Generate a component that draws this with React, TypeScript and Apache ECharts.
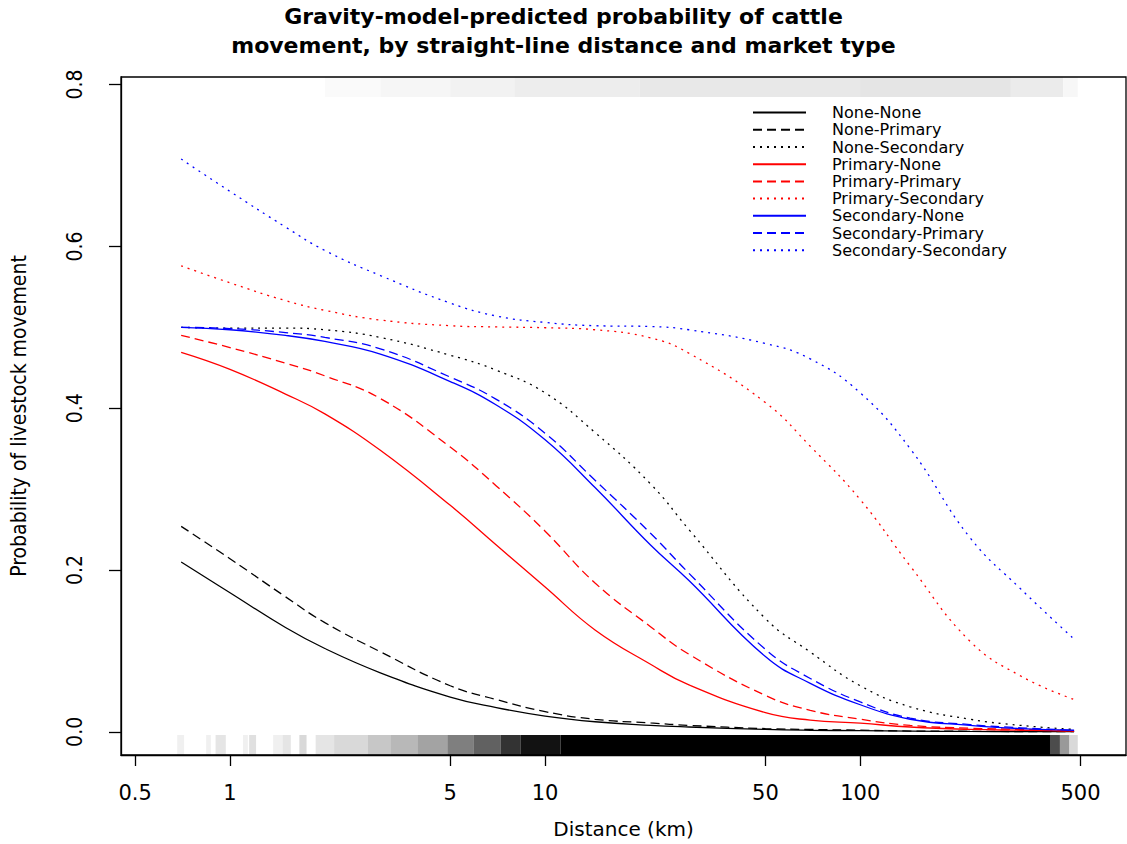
import React, { useEffect, useRef } from "react";
import * as echarts from "echarts";

// Distances (km) at which curves were read
const distKm = [0.7, 1, 1.5, 2, 3, 5, 7, 10, 14.4, 21.6, 28.6, 50, 69.4, 100, 144, 223, 323, 477];

const noneNone = [0.210, 0.172, 0.129, 0.103, 0.073, 0.043, 0.030, 0.0195, 0.0125, 0.008, 0.006, 0.003, 0.002, 0.0015, 0.001, 0.0005, 0.0003, 0.0002];
const nonePrimary = [0.254, 0.214, 0.167, 0.135, 0.099, 0.057, 0.040, 0.025, 0.0155, 0.011, 0.008, 0.004, 0.003, 0.002, 0.001, 0.0007, 0.0004, 0.0002];
const noneSecondary = [0.500, 0.499, 0.499, 0.497, 0.4875, 0.4655, 0.447, 0.419, 0.370, 0.3065, 0.250, 0.140, 0.0987, 0.057, 0.031, 0.0156, 0.008, 0.003];
const primaryNone = [0.469, 0.448, 0.4175, 0.393, 0.348, 0.280, 0.231, 0.179, 0.126, 0.0835, 0.058, 0.0237, 0.0145, 0.0107, 0.006, 0.003, 0.002, 0.001];
const primaryPrimary = [0.490, 0.475, 0.4557, 0.440, 0.412, 0.352, 0.304, 0.248, 0.184, 0.130, 0.096, 0.045, 0.0266, 0.0156, 0.008, 0.0045, 0.003, 0.001];
const primarySecondary = [0.576, 0.555, 0.533, 0.521, 0.509, 0.502, 0.5005, 0.4995, 0.497, 0.487, 0.468, 0.407, 0.353, 0.287, 0.205, 0.112, 0.069, 0.040];
const secondaryNone = [0.500, 0.497, 0.490, 0.4825, 0.467, 0.433, 0.404, 0.361, 0.302, 0.231, 0.187, 0.093, 0.060, 0.0335, 0.0156, 0.008, 0.004, 0.002];
const secondaryPrimary = [0.500, 0.4985, 0.4935, 0.4875, 0.4735, 0.4385, 0.411, 0.369, 0.311, 0.2455, 0.196, 0.102, 0.066, 0.037, 0.017, 0.009, 0.005, 0.002];
const secondarySecondary = [0.708, 0.668, 0.624, 0.595, 0.564, 0.530, 0.514, 0.506, 0.502, 0.501, 0.497, 0.480, 0.461, 0.419, 0.350, 0.240, 0.1766, 0.1147];

const seriesNames = [
  "None-None", "None-Primary", "None-Secondary",
  "Primary-None", "Primary-Primary", "Primary-Secondary",
  "Secondary-None", "Secondary-Primary", "Secondary-Secondary",
];
const seriesValues = [
  noneNone, nonePrimary, noneSecondary,
  primaryNone, primaryPrimary, primarySecondary,
  secondaryNone, secondaryPrimary, secondarySecondary,
];
const seriesColors = ["#000000", "#000000", "#000000", "#ff0000", "#ff0000", "#ff0000", "#0000ff", "#0000ff", "#0000ff"];
const seriesDash = ["solid", "dashed", "dotted", "solid", "dashed", "dotted", "solid", "dashed", "dotted"];

// Rug density bins: [from km, to km, shade 0..1]
const rugBottom = [
  [0.68, 0.715, 0.06], [0.84, 0.87, 0.06], [0.9, 0.97, 0.1], [1.1, 1.14, 0.06], [1.15, 1.21, 0.12],
  [1.37, 1.47, 0.06], [1.47, 1.56, 0.1], [1.66, 1.75, 0.15], [1.87, 2.14, 0.1], [2.14, 2.74, 0.15],
  [2.74, 3.24, 0.22], [3.24, 3.94, 0.28], [3.94, 4.9, 0.36], [4.9, 5.94, 0.5], [5.94, 7.23, 0.62],
  [7.23, 8.37, 0.8], [8.37, 11.2, 0.93], [11.2, 400, 1.0], [400, 430, 0.7], [430, 460, 0.4], [460, 490, 0.15],
];
const rugTop = [
  [2.0, 3.0, 0.02], [3.0, 5.0, 0.035], [5.0, 8.0, 0.05], [8.0, 20, 0.07], [20, 100, 0.09],
  [100, 300, 0.1], [300, 440, 0.08], [440, 490, 0.03],
];

const xTicks = [0.5, 1, 5, 10, 50, 100, 500];
const yTicks = [0, 0.2, 0.4, 0.6, 0.8];

const X_MIN = 0.451;
const X_MAX = 697;
const Y_MIN = -0.0286;
const Y_MAX = 0.8094;
const RUG_LEN = 20;

export default function App() {
  const ref = useRef<HTMLDivElement>(null);
  useEffect(() => {
    document.body.style.margin = "0";
    if (!ref.current) return;
    const chart = echarts.init(ref.current, undefined, { renderer: "svg" });

    const lineSeries = seriesNames.map((name, i) => ({
      name,
      type: "line",
      data: distKm.map((d, j) => [d, seriesValues[i][j]]),
      symbol: "none",
      showSymbol: false,
      smooth: 0.45,
      z: 5,
      lineStyle: {
        color: seriesColors[i],
        width: 1.3,
        type: seriesDash[i] === "dashed" ? [9, 5] : seriesDash[i] === "dotted" ? [2, 5] : "solid",
      },
      itemStyle: { color: seriesColors[i] },
    }));

    const rugSeries = (data: number[][], top: boolean) => ({
      type: "custom",
      silent: true,
      clip: true,
      z: 1,
      data,
      encode: { x: [0, 1], y: 2 },
      renderItem: (params: any, api: any) => {
        const from = api.value(0);
        const to = api.value(1);
        const shade = api.value(2);
        const p0 = api.coord([from, top ? Y_MAX : Y_MIN]);
        const p1 = api.coord([to, top ? Y_MAX : Y_MIN]);
        return {
          type: "rect",
          shape: { x: p0[0], y: top ? p0[1] : p0[1] - RUG_LEN, width: p1[0] - p0[0], height: RUG_LEN },
          style: { fill: `rgba(0,0,0,${shade})` },
        };
      },
    });

    chart.setOption({
      animation: false,
      backgroundColor: "#ffffff",
      title: {
        text: "Gravity-model-predicted probability of cattle\nmovement, by straight-line distance and market type",
        left: "center",
        top: 2,
        padding: 0,
        textStyle: {
          fontFamily: "DejaVu Sans",
          fontWeight: "bold",
          fontSize: 22,
          lineHeight: 29,
          color: "#000",
        },
      },
      legend: {
        orient: "vertical",
        left: 752,
        top: 104,
        padding: 0,
        itemWidth: 53,
        itemHeight: 14,
        itemGap: 0,
        data: seriesNames,
        itemStyle: { opacity: 0, color: "transparent", borderWidth: 0 },
        textStyle: {
          fontFamily: "DejaVu Sans",
          fontSize: 16,
          lineHeight: 17.2,
          color: "#000",
          padding: [0, 0, 0, 21],
        },
      },
      grid: {
        left: 120,
        right: 1,
        top: 77,
        bottom: 84,
        show: true,
        borderColor: "#000",
        borderWidth: 1.3,
        backgroundColor: "transparent",
      },
      xAxis: {
        type: "log",
        logBase: 10,
        min: X_MIN,
        max: X_MAX,
        name: "Distance (km)",
        nameLocation: "middle",
        nameGap: 64,
        nameTextStyle: { fontFamily: "DejaVu Sans", fontSize: 20, color: "#000" },
        axisLine: { show: true, onZero: false, lineStyle: { color: "#000", width: 1.3 } },
        axisTick: { show: true, length: 11, customValues: xTicks, lineStyle: { color: "#000", width: 1.3 } },
        axisLabel: {
          customValues: xTicks,
          margin: 27,
          fontFamily: "DejaVu Sans",
          fontSize: 21,
          color: "#000",
          formatter: (v: number) => String(v),
        },
        splitLine: { show: false },
        minorTick: { show: false },
      },
      yAxis: {
        type: "value",
        min: Y_MIN,
        max: Y_MAX,
        name: "Probability of livestock movement",
        nameLocation: "middle",
        nameRotate: 90,
        nameGap: 92,
        nameTextStyle: {
          fontFamily: "'Liberation Sans Narrow', 'DejaVu Sans Condensed', 'Liberation Sans'",
          fontSize: 21,
          color: "#000",
        },
        axisLine: { show: true, onZero: false, lineStyle: { color: "#000", width: 1.3 } },
        axisTick: { show: true, length: 12, customValues: yTicks, lineStyle: { color: "#000", width: 1.3 } },
        axisLabel: {
          customValues: yTicks,
          rotate: 90,
          margin: 36,
          fontFamily: "'Liberation Sans Narrow', 'DejaVu Sans Condensed', 'Liberation Sans'",
          fontSize: 21,
          color: "#000",
          formatter: (v: number) => v.toFixed(1),
        },
        splitLine: { show: false },
      },
      series: [rugSeries(rugBottom, false), rugSeries(rugTop, true), ...lineSeries],
    });

    return () => chart.dispose();
  }, []);

  return <div ref={ref} style={{ width: 1127, height: 844 }} />;
}
